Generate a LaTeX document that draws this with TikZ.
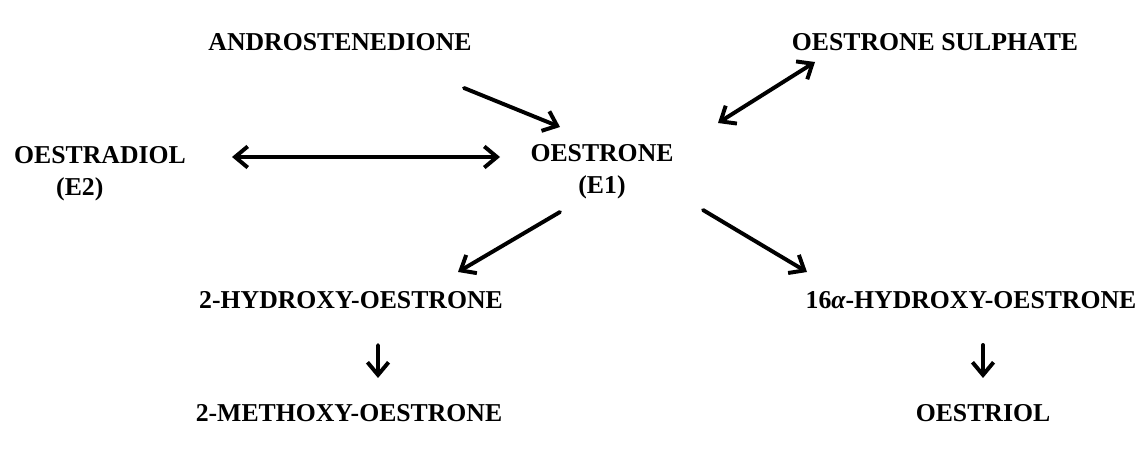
\documentclass[tikz,border=0pt]{standalone}
\usepackage{fontspec}
\setmainfont{Liberation Serif}
\usetikzlibrary{arrows.meta}

\begin{document}
\begin{tikzpicture}[line cap=round, line join=round,
    chem/.style={font=\fontsize{18.3}{22.7}\selectfont\bfseries, inner sep=0pt},
    conv/.style={-{Straight Barb[length=9pt,width=15pt]}, line width=2.8pt},
    both/.style={{Straight Barb[length=9pt,width=15pt]}-{Straight Barb[length=9pt,width=15pt]}, line width=2.8pt}]

\useasboundingbox (0,0) rectangle (28.6,-11.325);

% Metabolites
\node[chem] (andro) at (8.5,-1.05) {ANDROSTENEDIONE};
\node[chem] (sulph) at (23.375,-1.05) {OESTRONE SULPHATE};
\node[chem, align=left] (oestradiol) at (2.5,-4.35) {OESTRADIOL\\\hspace*{1.05cm}(E2)};
\node[chem, align=center] (oestrone) at (15.05,-4.3) {OESTRONE\\(E1)};
\node[chem] (hydroxy2) at (8.775,-7.5) {2-HYDROXY-OESTRONE};
\node[chem] (hydroxy16) at (24.275,-7.5) {16{\itshape α}-HYDROXY-OESTRONE};
\node[chem] (methoxy) at (8.725,-10.325) {2-METHOXY-OESTRONE};
\node[chem] (oestriol) at (24.575,-10.325) {OESTRIOL};

% Conversions ------------------------------
\draw[conv] ([shift={(3.1,-1.15)}]andro.center) -- ([shift={(-1.05,1.125)}]oestrone.center);
\draw[both] ([shift={(-3.0,-0.5)}]sulph.center) -- ([shift={(2.9,1.225)}]oestrone.center);
\draw[both] ([shift={(3.3,0.425)}]oestradiol.center) -- ([shift={(-2.55,0.375)}]oestrone.center);
\draw[conv] ([shift={(-1.05,-1.0)}]oestrone.center) -- ([shift={(2.675,0.7)}]hydroxy2.center);
\draw[conv] ([shift={(2.525,-0.95)}]oestrone.center) -- ([shift={(-4.1,0.7)}]hydroxy16.center);

% Down the branches
\draw[conv] ([shift={(0.675,-1.125)}]hydroxy2.center) -- ([shift={(0.725,0.875)}]methoxy.center);
\draw[conv] ([shift={(0.3,-1.125)}]hydroxy16.center) -- ([shift={(0,0.875)}]oestriol.center);

\end{tikzpicture}
\end{document}
